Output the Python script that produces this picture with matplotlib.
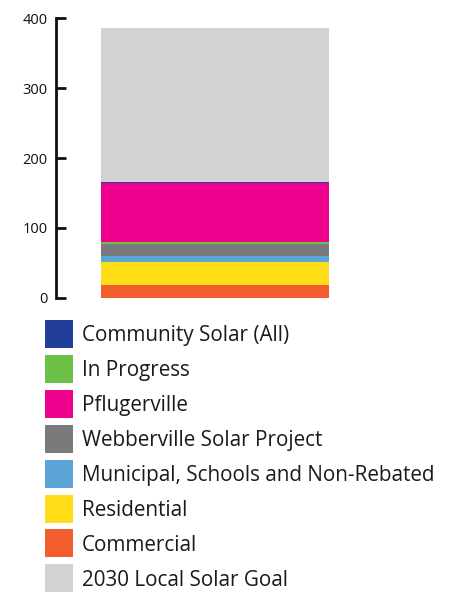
import matplotlib.pyplot as plt
from matplotlib.patches import Rectangle

# Stack segments, bottom to top (MW)
segments = ['Commercial', 'Residential', 'Municipal, Schools and Non-Rebated',
            'Webberville Solar Project', 'In Progress', 'Pflugerville',
            'Community Solar (All)', '2030 Local Solar Goal']
values = [18, 33, 8, 18, 3, 84, 1.5, 220]
colors = ['#f15d2c', '#fedd16', '#5ba4d6', '#7a7a7d', '#6cbf47', '#ec008c',
          '#213f99', '#d1d2d4']

# Legend order, top to bottom
legend_order = ['Community Solar (All)', 'In Progress', 'Pflugerville',
                'Webberville Solar Project', 'Municipal, Schools and Non-Rebated',
                'Residential', 'Commercial', '2030 Local Solar Goal']

yticks = [0, 100, 200, 300, 400]

plt.rcParams['font.family'] = ['Open Sans', 'DejaVu Sans']

W, H = 453, 592
fig = plt.figure(figsize=(W / 100, H / 100), dpi=100)
ax = fig.add_axes([56 / W, (H - 297.7) / H, (W - 56) / W, 279.4 / H])

bottom = 0
for v, c in zip(values, colors):
    ax.bar(159, v, width=228, bottom=bottom, color=c, linewidth=0)
    bottom += v

ax.set_xlim(0, W - 56)
ax.set_ylim(0, 400)
ax.set_xticks([])
ax.set_yticks(yticks)
ax.tick_params(axis='y', direction='in', length=7, width=2, pad=6,
               labelsize=10.5, colors='#111111')
for s in ['top', 'right', 'bottom']:
    ax.spines[s].set_visible(False)
ax.spines['left'].set_linewidth(2)
ax.spines['left'].set_color('#111111')
ax.spines['left'].set_bounds(0, 400)
ax.patch.set_alpha(0)

# Legend drawn by hand: square swatch and label per row
color_of = dict(zip(segments, colors))
row_top = 320
row_step = 34.9
size = 28
for i, name in enumerate(legend_order):
    top = row_top + i * row_step
    fig.add_artist(Rectangle((45 / W, (H - top - size) / H), size / W, size / H,
                             transform=fig.transFigure, color=color_of[name],
                             linewidth=0))
    fig.text(82 / W, (H - top - 21.5) / H, name, fontsize=14.9,
             color='#1a1a1a', va='baseline', ha='left')

fig.savefig('out.png', dpi=100)
